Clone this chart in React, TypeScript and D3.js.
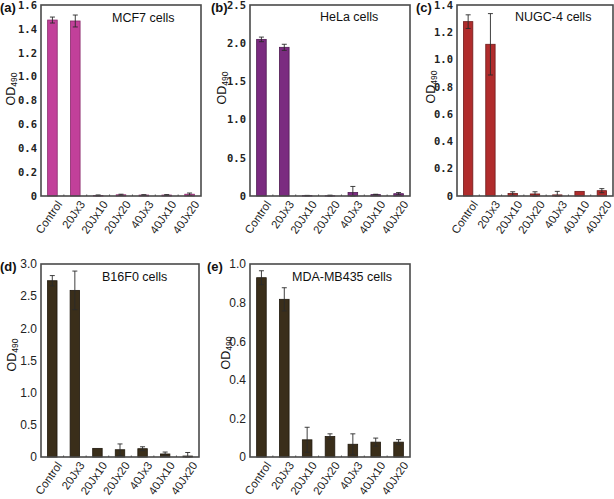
import React from "react";
import * as d3 from "d3";

const categories = ["Control", "20Jx3", "20Jx10", "20Jx20", "40Jx3", "40Jx10", "40Jx20"];

const mcf7Values = [1.474, 1.466, 0.005, 0.01, 0.008, 0.008, 0.015];
const mcf7Errors = [0.025, 0.05, 0.004, 0.005, 0.003, 0.004, 0.01];
const mcf7Ticks = ["0", "0.2", "0.4", "0.6", "0.8", "1.0", "1.2", "1.4", "1.6"];

const helaValues = [2.05, 1.946, 0.005, 0.003, 0.045, 0.018, 0.03];
const helaErrors = [0.03, 0.04, 0.003, 0.008, 0.08, 0.005, 0.015];
const helaTicks = ["0", "0.5", "1.0", "1.5", "2.0", "2.5"];

const nugcValues = [1.278, 1.112, 0.018, 0.015, 0.008, 0.034, 0.039];
const nugcErrors = [0.05, 0.225, 0.013, 0.016, 0.026, 0, 0.015];
const nugcTicks = ["0", "0.2", "0.4", "0.6", "0.8", "1.0", "1.2", "1.4"];

const b16Values = [2.74, 2.59, 0.134, 0.113, 0.129, 0.047, 0.015];
const b16Errors = [0.08, 0.3, 0, 0.09, 0.03, 0.03, 0.055];
const b16Ticks = ["0", "0.5", "1.0", "1.5", "2.0", "2.5", "3.0"];

const mdaValues = [0.929, 0.817, 0.089, 0.106, 0.066, 0.077, 0.077];
const mdaErrors = [0.036, 0.06, 0.065, 0.014, 0.054, 0.021, 0.013];
const mdaTicks = ["0", "0.2", "0.4", "0.6", "0.8", "1.0"];

type PanelProps = {
  x0: number; x1: number; y0: number; y1: number;
  values: number[]; errors: number[]; ticks: string[];
  fill: string; stroke: string;
  title: string; titleX: number; titleY: number;
  tag: string; tagX: number; tagY: number;
  labX: number; labY: number;
  mono: boolean;
};

function Panel(p: PanelProps) {
  const yMax = +p.ticks[p.ticks.length - 1];
  const x = d3.scaleBand<string>().domain(categories).range([p.x0, p.x1]).paddingInner(0.58).paddingOuter(0.29);
  const y = d3.scaleLinear().domain([0, yMax]).range([p.y1, p.y0]);
  const tickFont = p.mono ? "'DejaVu Sans Mono', monospace" : "'Liberation Sans', Arial, sans-serif";
  const bw = x.bandwidth();
  const step = x.step();
  return (
    <g>
      {p.ticks.map((t) => (
        <text key={t} x={p.x0 - 4} y={y(+t)} dy="0.36em" textAnchor="end"
          fontFamily={tickFont} fontSize={p.mono ? 10.5 : 12} fontWeight={p.mono ? "bold" : "normal"} fill="#222">{t}</text>
      ))}
      {categories.map((c, i) => {
        const v = p.values[i];
        const e = p.errors[i];
        const cx = (x(c) as number) + bw / 2;
        return (
          <g key={c}>
            <rect x={x(c)} y={y(v)} width={bw} height={p.y1 - y(v)} fill={p.fill} stroke={p.stroke} strokeWidth={0.8} />
            {e > 0 && (
              <g stroke="#2a2a2a" strokeWidth={0.9}>
                <line x1={cx} x2={cx} y1={y(v + e)} y2={y(Math.max(0, v - e))} />
                <line x1={cx - 2.5} x2={cx + 2.5} y1={y(v + e)} y2={y(v + e)} />
                <line x1={cx - 2.5} x2={cx + 2.5} y1={y(Math.max(0, v - e))} y2={y(Math.max(0, v - e))} />
              </g>
            )}
            <text transform={`translate(${cx + 7},${p.y1 + 6}) rotate(-55)`} textAnchor="end" dy="0.35em"
              fontFamily="'Liberation Sans', Arial, sans-serif" fontSize={11.5} fill="#222">{c}</text>
          </g>
        );
      })}
      {d3.range(1, categories.length).map((i) => {
        const bx = p.x0 + x.paddingOuter() * step + i * step - (step - bw) / 2;
        return <line key={i} x1={bx} x2={bx} y1={p.y1} y2={p.y1 - 1.5} stroke="#555" strokeWidth={1} />;
      })}
      <rect x={p.x0} y={p.y0} width={p.x1 - p.x0} height={p.y1 - p.y0} fill="none" stroke="#4a4a4a" strokeWidth={1.6} />
      <text x={p.titleX} y={p.titleY} fontFamily="'Liberation Sans', Arial, sans-serif" fontSize={12.5} fill="#111">{p.title}</text>
      <text x={p.tagX} y={p.tagY} fontFamily="'Liberation Sans', Arial, sans-serif" fontSize={13} fontWeight="bold" fill="#111">{p.tag}</text>
      <text transform={`translate(${p.labX},${p.labY}) rotate(-90)`} textAnchor="middle" dy="0.35em"
        fontFamily="'Liberation Sans', Arial, sans-serif" fontSize={12.5} fill="#111">
        OD<tspan fontSize={8.5} dy={2}>490</tspan>
      </text>
    </g>
  );
}

export default function App() {
  return (
    <svg width={614} height={499} style={{ position: "absolute", left: 0, top: 0, background: "#fff" }}>
      <Panel x0={41} x1={201} y0={5} y1={196} values={mcf7Values} errors={mcf7Errors} ticks={mcf7Ticks}
        fill="#c2409a" stroke="#8a2a6c" title="MCF7 cells" titleX={112} titleY={22} tag="(a)" tagX={0} tagY={12}
        labX={11} labY={89} mono={true} />
      <Panel x0={250} x1={410} y0={5} y1={196} values={helaValues} errors={helaErrors} ticks={helaTicks}
        fill="#7b2b80" stroke="#4e1a52" title="HeLa cells" titleX={320} titleY={21} tag="(b)" tagX={211} tagY={12}
        labX={222} labY={88} mono={true} />
      <Panel x0={457} x1={613} y0={5} y1={196} values={nugcValues} errors={nugcErrors} ticks={nugcTicks}
        fill="#b02c2c" stroke="#6e1a1a" title="NUGC-4 cells" titleX={515} titleY={21} tag="(c)" tagX={416} tagY={12}
        labX={431} labY={87} mono={true} />
      <Panel x0={41} x1={199} y0={264} y1={457} values={b16Values} errors={b16Errors} ticks={b16Ticks}
        fill="#3a2e1a" stroke="#1e170c" title="B16F0 cells" titleX={102} titleY={281} tag="(d)" tagX={0} tagY={271}
        labX={12} labY={355} mono={false} />
      <Panel x0={250} x1={410} y0={264} y1={457} values={mdaValues} errors={mdaErrors} ticks={mdaTicks}
        fill="#3a2e1a" stroke="#1e170c" title="MDA-MB435 cells" titleX={292} titleY={281} tag="(e)" tagX={207} tagY={271}
        labX={226} labY={353} mono={false} />
    </svg>
  );
}
